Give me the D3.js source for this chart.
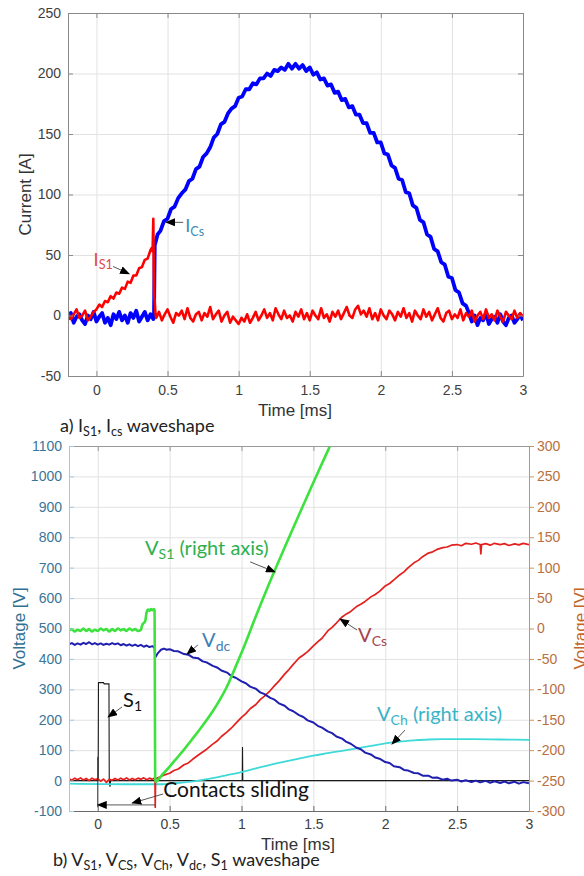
<!DOCTYPE html>
<html>
<head>
<meta charset="utf-8">
<script src="https://cdn.jsdelivr.net/npm/d3@7"></script>
<style>
body { margin: 0; background: #fff; }
svg { display: block; }
.tick text { font-family: "Liberation Sans", Arial, sans-serif; font-size: 14px; }
</style>
</head>
<body>
<div id="chart"></div>
<script>
// ---- data ----
var timeTicks = [0, 0.5, 1, 1.5, 2, 2.5, 3];
var currentTicks = [-50, 0, 50, 100, 150, 200, 250];
var voltLeftTicks = [-100, 0, 100, 200, 300, 400, 500, 600, 700, 800, 900, 1000, 1100];
var voltRightTicks = [-300, -250, -200, -150, -100, -50, 0, 50, 100, 150, 200, 250, 300];

// [time ms, current A]
var iCs = [
	[-0.2,-3],[-0.18,2],[-0.16,-6],[-0.14,-1],[-0.12,1],[-0.1,-4],[-0.08,-7],[-0.06,0],[-0.04,-3],[-0.02,3],
	[0,-5],[0.02,-1],[0.04,2],[0.06,-6],[0.08,-2],[0.1,-8],[0.12,1],[0.14,-3],[0.16,3],[0.18,-4],
	[0.2,0],[0.22,-6],[0.24,2],[0.26,-2],[0.28,4],[0.3,-5],[0.32,-1],[0.34,3],[0.36,-4],[0.38,1],[0.4,-3],[0.405,0],
	[0.41,58],[0.43,67],[0.45,70],[0.475,78],[0.5,80],[0.525,88],[0.55,90],[0.575,97],[0.6,101],[0.625,104],
	[0.65,111],[0.675,113],[0.7,121],[0.725,123],[0.75,131],[0.775,134],[0.8,139],[0.825,147],[0.85,150],[0.875,158],
	[0.9,160],[0.925,167],[0.95,171],[0.975,173],[1.0,180],[1.025,181],[1.05,187],[1.075,187],[1.1,192],[1.125,191],
	[1.15,196],[1.175,196],[1.2,200],[1.225,198],[1.25,203],[1.275,202],[1.3,205],[1.325,203],[1.35,208],[1.375,204],
	[1.4,208],[1.425,204],[1.45,207],[1.475,202],[1.5,205],[1.525,199],[1.55,201],[1.575,195],[1.6,196],[1.625,190],
	[1.65,191],[1.675,184],[1.7,185],[1.725,178],[1.75,179],[1.775,172],[1.8,173],[1.825,166],[1.85,166],[1.875,159],
	[1.9,159],[1.925,151],[1.95,151],[1.975,143],[2.0,143],[2.025,134],[2.05,133],[2.075,124],[2.1,122],[2.125,113],
	[2.15,112],[2.175,102],[2.2,101],[2.225,91],[2.25,89],[2.275,79],[2.3,77],[2.325,67],[2.35,65],[2.375,55],
	[2.4,53],[2.425,44],[2.45,42],[2.475,32],[2.5,31],[2.525,21],[2.55,19],[2.575,10],[2.6,8],[2.62,2],
	[2.64,-5],[2.66,0],[2.68,-8],[2.7,-2],[2.72,-4],[2.74,2],[2.76,-7],[2.78,-3],[2.8,-1],[2.82,-6],
	[2.84,1],[2.86,-5],[2.88,-8],[2.9,-2],[2.92,0],[2.94,-6],[2.96,-3],[2.98,1],[3.0,-4]
];

var iS1 = [
	[-0.2,2],[-0.18,-3],[-0.16,1],[-0.14,5],[-0.12,-2],[-0.1,0],[-0.08,4],[-0.06,-4],[-0.04,-1],[-0.02,3],[0,5],
	[0.02,9],[0.04,7],[0.06,12],[0.08,11],[0.1,16],[0.12,14],[0.14,19],[0.16,18],[0.18,23],[0.2,22],
	[0.22,28],[0.24,27],[0.26,33],[0.28,33],[0.3,39],[0.32,40],[0.34,46],[0.36,47],[0.38,54],[0.39,56],[0.395,53],
	[0.4,80],[0.403,40],[0.406,16],[0.41,12],[0.415,2],
	[0.42,-2],[0.44,3],[0.46,-4],[0.48,1],[0.5,5],[0.52,-1],[0.54,-6],[0.56,2],[0.58,0],[0.6,4],
	[0.62,-3],[0.64,6],[0.66,-2],[0.68,-5],[0.7,1],[0.72,3],[0.74,-4],[0.76,2],[0.78,-1],[0.8,7],
	[0.82,-3],[0.84,1],[0.86,4],[0.88,-5],[0.9,0],[0.92,3],[0.94,-6],[0.96,-1],[0.98,-4],[1.0,-7],
	[1.02,-2],[1.04,-5],[1.06,1],[1.08,-6],[1.1,-2],[1.12,3],[1.14,-4],[1.16,0],[1.18,5],[1.2,-2],
	[1.22,2],[1.24,-4],[1.26,6],[1.28,1],[1.3,-3],[1.32,4],[1.34,-2],[1.36,0],[1.38,-5],[1.4,3],
	[1.42,-1],[1.44,5],[1.46,-3],[1.48,2],[1.5,-4],[1.52,4],[1.54,0],[1.56,-3],[1.58,6],[1.6,-2],
	[1.62,1],[1.64,-5],[1.66,3],[1.68,-1],[1.7,4],[1.72,-3],[1.74,2],[1.76,7],[1.78,0],[1.8,-2],
	[1.82,5],[1.84,8],[1.86,1],[1.88,4],[1.9,-1],[1.92,6],[1.94,-3],[1.96,2],[1.98,-4],[2.0,5],
	[2.02,0],[2.04,-3],[2.06,4],[2.08,1],[2.1,-4],[2.12,3],[2.14,-1],[2.16,6],[2.18,-2],[2.2,2],
	[2.22,-5],[2.24,4],[2.26,0],[2.28,-3],[2.3,5],[2.32,-1],[2.34,3],[2.36,-4],[2.38,1],[2.4,6],
	[2.42,-2],[2.44,-5],[2.46,2],[2.48,4],[2.5,-3],[2.52,1],[2.54,-2],[2.56,5],[2.58,-4],[2.6,2],
	[2.62,-1],[2.64,4],[2.66,-5],[2.68,0],[2.7,3],[2.72,-3],[2.74,5],[2.76,-2],[2.78,1],[2.8,-4],
	[2.82,4],[2.84,-1],[2.86,-5],[2.88,3],[2.9,0],[2.92,-3],[2.94,4],[2.96,-2],[2.98,2],[3.0,-1]
];

// [time ms, volts on right axis]
var vS1 = [
	[-0.2,-3],[-0.18,-1],[-0.16,-5],[-0.14,-2],[-0.12,-4],[-0.1,0],[-0.08,-4],[-0.06,-1],[-0.04,-5],[-0.02,-2],
	[0,-4],[0.02,0],[0.04,-3],[0.06,-1],[0.08,-5],[0.1,-1],[0.12,-4],[0.14,0],[0.16,-3],[0.18,-1],
	[0.2,-4],[0.22,0],[0.24,-3],[0.26,-1],[0.28,-4],[0.3,-2],
	[0.31,6],[0.32,9],[0.33,12],[0.34,27],[0.35,31],[0.36,29],[0.37,32],[0.38,30],[0.39,32],[0.395,30],
	[0.4,-252],[0.45,-240],[0.5,-227],[0.55,-213],[0.6,-199],[0.65,-184],[0.7,-169],[0.75,-153],[0.8,-136],
	[0.85,-117],[0.9,-95],[0.95,-68],[1.0,-40],[1.1,20],[1.2,78],[1.3,133],[1.4,187],[1.5,240],[1.6,292],[1.65,318]
];

// [time ms, volts on left axis]
var vdc = [
	[-0.2,448],[-0.18,452],[-0.16,446],[-0.14,451],[-0.12,447],[-0.1,453],[-0.08,449],[-0.06,455],[-0.04,448],[-0.02,452],
	[0,447],[0.02,451],[0.04,446],[0.06,450],[0.08,447],[0.1,452],[0.12,448],[0.14,451],[0.16,445],[0.18,449],
	[0.2,444],[0.22,448],[0.24,443],[0.26,447],[0.28,442],[0.3,446],[0.32,440],[0.34,444],[0.36,439],[0.38,442],[0.395,437],
	[0.4,405],[0.42,420],[0.44,430],[0.46,434],[0.48,430],[0.5,432],[0.53,426],[0.56,425],[0.6,416],[0.63,414],
	[0.66,405],[0.7,402],[0.73,392],[0.76,388],[0.8,377],[0.83,372],[0.86,362],[0.9,355],[0.93,343],[0.96,338],
	[1.0,326],[1.03,320],[1.06,309],[1.1,302],[1.13,290],[1.16,284],[1.2,272],[1.23,266],[1.26,254],[1.3,246],
	[1.33,234],[1.36,228],[1.4,215],[1.43,209],[1.46,198],[1.5,191],[1.53,180],[1.56,174],[1.6,162],[1.63,156],
	[1.66,145],[1.7,138],[1.73,127],[1.76,121],[1.8,108],[1.83,103],[1.86,92],[1.9,86],[1.93,76],[1.96,72],
	[2.0,61],[2.03,58],[2.06,47],[2.1,44],[2.13,35],[2.16,33],[2.2,25],[2.23,24],[2.26,16],[2.3,16],
	[2.33,9],[2.36,10],[2.4,3],[2.43,6],[2.46,0],[2.5,3],[2.53,-3],[2.56,1],[2.6,-5],[2.63,0],
	[2.66,-6],[2.7,-1],[2.73,-7],[2.76,-2],[2.8,-8],[2.83,-3],[2.86,-9],[2.9,-4],[2.93,-10],[2.96,-5],[3.0,-9]
];

var vCs = [
	[-0.2,6],[-0.18,1],[-0.16,8],[-0.14,3],[-0.12,9],[-0.1,2],[-0.08,7],[-0.06,0],[-0.04,8],[-0.02,3],
	[0,6],[0.02,-2],[0.04,5],[0.06,-6],[0.08,4],[0.1,1],[0.12,7],[0.14,2],[0.16,8],[0.18,3],
	[0.2,9],[0.22,2],[0.24,7],[0.26,3],[0.28,8],[0.3,4],[0.32,9],[0.34,3],[0.36,8],[0.38,4],[0.398,9],
	[0.4,-88],[0.402,5],
	[0.43,12],[0.46,18],[0.5,24],[0.53,33],[0.56,38],[0.6,52],[0.63,58],[0.66,70],[0.7,84],[0.73,94],
	[0.76,104],[0.8,120],[0.83,130],[0.86,145],[0.9,160],[0.93,173],[0.96,188],[1.0,208],[1.03,220],[1.06,236],
	[1.1,250],[1.13,266],[1.16,278],[1.2,296],[1.23,312],[1.26,327],[1.3,350],[1.33,365],[1.36,382],[1.4,403],
	[1.43,413],[1.46,424],[1.5,443],[1.53,456],[1.56,468],[1.6,492],[1.63,504],[1.66,518],[1.7,538],[1.73,548],
	[1.76,556],[1.8,572],[1.83,580],[1.86,589],[1.9,604],[1.93,612],[1.96,622],[2.0,640],[2.03,648],[2.06,660],
	[2.1,676],[2.13,686],[2.16,700],[2.2,716],[2.23,724],[2.26,736],[2.3,748],[2.33,752],[2.36,760],[2.4,766],
	[2.43,768],[2.46,774],[2.5,776],[2.53,772],[2.56,780],[2.6,777],[2.63,781],[2.66,776],[2.665,745],[2.67,776],
	[2.7,779],[2.73,774],[2.76,780],[2.8,776],[2.83,779],[2.86,773],[2.9,778],[2.93,775],[2.96,780],[3.0,776]
];

// right axis
var vCh = [
	[-0.2,-255],[0.2,-256],[0.45,-256],[0.5,-255],[0.6,-253],[0.7,-250],[0.8,-246],[0.9,-241],[1.0,-236],
	[1.1,-230],[1.2,-224],[1.3,-219],[1.4,-214],[1.5,-209],[1.6,-205],[1.7,-201],[1.8,-197],[1.9,-193],
	[2.0,-189],[2.1,-186],[2.2,-184],[2.3,-182.5],[2.4,-182],[2.6,-182],[2.8,-182.5],[3.0,-183]
];

// left axis
var s1 = [
	[-0.2,0],[0.003,0],[0.005,322],[0.04,322],[0.045,318],[0.078,318],[0.08,0],[0.085,-20],[0.09,0],
	[1.005,0],[1.007,110],[1.009,0],[3.0,0]
];

// ---- layout ----
var W = 584, H = 876;
var svg = d3.select("#chart").append("svg").attr("width", W).attr("height", H);

var defs = svg.append("defs");
defs.append("marker")
	.attr("id", "arrow")
	.attr("markerUnits", "userSpaceOnUse")
	.attr("markerWidth", 10).attr("markerHeight", 8)
	.attr("refX", 9).attr("refY", 4)
	.attr("orient", "auto")
	.append("path")
	.attr("d", "M0,0 L10,4 L0,8 z")
	.attr("fill", "#000");

var noteFont = "Lato, 'Open Sans', sans-serif";
var tickFont = "'Liberation Sans', Arial, sans-serif";
var plainNum = function(d) { return String(d); };

// text with subscripts: parts = [[text, isSub], ...]
function richText(g, parts, x, y, size, color, anchor) {
	var t = g.append("text")
		.attr("x", x).attr("y", y)
		.attr("font-family", noteFont)
		.attr("font-size", size)
		.attr("fill", color)
		.attr("text-anchor", anchor || "start");
	var wasSub = false;
	var shift = size * 0.2;
	parts.forEach(function(p) {
		var sp = t.append("tspan").text(p[0]);
		if (p[1]) {
			sp.attr("font-size", size * 0.7);
			if (!wasSub) sp.attr("dy", shift);
			wasSub = true;
		} else {
			if (wasSub) sp.attr("dy", -shift);
			wasSub = false;
		}
	});
	return t;
}

function styleAxis(g, color, textColor) {
	g.select(".domain").attr("stroke", color);
	g.selectAll(".tick line").attr("stroke", color);
	g.selectAll(".tick text").attr("fill", textColor).attr("font-family", tickFont).attr("font-size", 14);
}

function arrowLine(g, x1, y1, x2, y2) {
	g.append("line")
		.attr("x1", x1).attr("y1", y1).attr("x2", x2).attr("y2", y2)
		.attr("stroke", "#444").attr("stroke-width", 0.9)
		.attr("marker-end", "url(#arrow)");
}

// ================= chart a) =================
var xTop = d3.scaleLinear().domain([-0.2, 3]).range([68, 523]);
var yTop = d3.scaleLinear().domain([-50, 250]).range([376, 13]);
var topH = yTop(-50) - yTop(250), topW = xTop(3) - xTop(-0.2);

var gridA = svg.append("g");
gridA.append("g").attr("transform", "translate(0," + yTop(-50) + ")")
	.call(d3.axisBottom(xTop).tickValues(timeTicks).tickSize(-topH).tickFormat(""))
	.call(function(g) { g.select(".domain").remove(); g.selectAll("line").attr("stroke", "#e2e2e2"); });
gridA.append("g").attr("transform", "translate(" + xTop(-0.2) + ",0)")
	.call(d3.axisLeft(yTop).tickValues(currentTicks).tickSize(-topW).tickFormat(""))
	.call(function(g) { g.select(".domain").remove(); g.selectAll("line").attr("stroke", "#e2e2e2"); });

defs.append("clipPath").attr("id", "clipA").append("rect")
	.attr("x", xTop(-0.2)).attr("y", yTop(250)).attr("width", topW).attr("height", topH);

var lineA = d3.line().x(function(d) { return xTop(d[0]); }).y(function(d) { return yTop(d[1]); });
var plotA = svg.append("g").attr("clip-path", "url(#clipA)");
plotA.append("path").datum(iCs).attr("d", lineA).attr("fill", "none")
	.attr("stroke", "#0000ff").attr("stroke-width", 3.8).attr("stroke-linejoin", "round");
plotA.append("path").datum(iS1).attr("d", lineA).attr("fill", "none")
	.attr("stroke", "#ff0000").attr("stroke-width", 2.6).attr("stroke-linejoin", "round");

var axA = "#8a8a8a";
svg.append("g").attr("transform", "translate(0," + yTop(-50) + ")")
	.call(d3.axisBottom(xTop).tickValues(timeTicks).tickSizeInner(-5).tickSizeOuter(0).tickPadding(9).tickFormat(plainNum))
	.call(function(g) { styleAxis(g, axA, "#404040"); });
svg.append("g").attr("transform", "translate(0," + yTop(250) + ")")
	.call(d3.axisTop(xTop).tickValues(timeTicks).tickSizeInner(-5).tickSizeOuter(0).tickFormat(""))
	.call(function(g) { styleAxis(g, axA, "#404040"); });
svg.append("g").attr("transform", "translate(" + xTop(-0.2) + ",0)")
	.call(d3.axisLeft(yTop).tickValues(currentTicks).tickSizeInner(-5).tickSizeOuter(0).tickPadding(7).tickFormat(plainNum))
	.call(function(g) { styleAxis(g, axA, "#404040"); });
svg.append("g").attr("transform", "translate(" + xTop(3) + ",0)")
	.call(d3.axisRight(yTop).tickValues(currentTicks).tickSizeInner(-5).tickSizeOuter(0).tickFormat(""))
	.call(function(g) { styleAxis(g, axA, "#404040"); });

svg.append("text")
	.attr("transform", "translate(31," + yTop(100) + ") rotate(-90)")
	.attr("text-anchor", "middle")
	.attr("font-family", tickFont).attr("font-size", 17).attr("fill", "#333")
	.text("Current [A]");
svg.append("text")
	.attr("x", 295).attr("y", 416)
	.attr("text-anchor", "middle")
	.attr("font-family", tickFont).attr("font-size", 17).attr("fill", "#333")
	.text("Time [ms]");

var notesA = svg.append("g");
richText(notesA, [["I"], ["S1", 1]], xTop(-0.02), yTop(41), 18, "#dc4b4b");
arrowLine(notesA, xTop(0.117), yTop(40.5), xTop(0.23), yTop(34.5));
richText(notesA, [["I"], ["Cs", 1]], xTop(0.625), yTop(69), 18, "#3c8dbc");
arrowLine(notesA, xTop(0.61), yTop(77), xTop(0.49), yTop(77));

richText(svg, [["a) I"], ["S1", 1], [", I"], ["cs", 1], [" waveshape"]], 60, 432, 18, "#222");

// ================= chart b) =================
var xBot = d3.scaleLinear().domain([-0.2, 3]).range([69, 529]);
var yL = d3.scaleLinear().domain([-100, 1100]).range([811, 446]);
var yR = d3.scaleLinear().domain([-300, 300]).range([811, 446]);
var botH = yL(-100) - yL(1100), botW = xBot(3) - xBot(-0.2);

var gridB = svg.append("g");
gridB.append("g").attr("transform", "translate(0," + yL(-100) + ")")
	.call(d3.axisBottom(xBot).tickValues(timeTicks).tickSize(-botH).tickFormat(""))
	.call(function(g) { g.select(".domain").remove(); g.selectAll("line").attr("stroke", "#e2e2e2"); });
gridB.append("g").attr("transform", "translate(" + xBot(-0.2) + ",0)")
	.call(d3.axisLeft(yL).tickValues(voltLeftTicks).tickSize(-botW).tickFormat(""))
	.call(function(g) { g.select(".domain").remove(); g.selectAll("line").attr("stroke", "#e2e2e2"); });

defs.append("clipPath").attr("id", "clipB").append("rect")
	.attr("x", xBot(-0.2)).attr("y", yL(1100)).attr("width", botW).attr("height", botH);

var lineL = d3.line().x(function(d) { return xBot(d[0]); }).y(function(d) { return yL(d[1]); });
var lineRsmooth = d3.line().curve(d3.curveMonotoneX)
	.x(function(d) { return xBot(d[0]); }).y(function(d) { return yR(d[1]); });
var plotB = svg.append("g").attr("clip-path", "url(#clipB)");

plotB.append("path").datum(s1).attr("d", lineL).attr("fill", "none")
	.attr("stroke", "#1a1a1a").attr("stroke-width", 1.1);
plotB.append("path").datum(vCh).attr("d", lineRsmooth).attr("fill", "none")
	.attr("stroke", "#3fdad8").attr("stroke-width", 1.8);
plotB.append("path").datum(vCs).attr("d", lineL).attr("fill", "none")
	.attr("stroke", "#e3201e").attr("stroke-width", 1.7).attr("stroke-linejoin", "round");
plotB.append("path").datum(vdc).attr("d", lineL).attr("fill", "none")
	.attr("stroke", "#1f1fb0").attr("stroke-width", 2).attr("stroke-linejoin", "round");
plotB.append("path").datum(vS1).attr("d", lineRsmooth).attr("fill", "none")
	.attr("stroke", "#3ee23e").attr("stroke-width", 2.6).attr("stroke-linejoin", "round");

// contacts sliding marks
var notesB = svg.append("g");
notesB.append("line")
	.attr("x1", xBot(0)).attr("x2", xBot(0)).attr("y1", yL(78)).attr("y2", yL(-88))
	.attr("stroke", "#333").attr("stroke-width", 1);
arrowLine(notesB, xBot(0.4), yL(-80), xBot(0), yL(-80));
arrowLine(notesB, xBot(0.455), yL(-44), xBot(0.24), yL(-74));
richText(notesB, [["Contacts sliding"]], xBot(0.455), yL(-54), 21, "#111");

richText(notesB, [["V"], ["S1", 1], [" (right axis)"]], xBot(0.329), yL(741), 20, "#2eaf4e");
arrowLine(notesB, xBot(1.06), yL(719), xBot(1.233), yL(686));
richText(notesB, [["V"], ["dc", 1]], xBot(0.726), yL(440), 20, "#3f7eb3");
arrowLine(notesB, xBot(0.697), yL(446), xBot(0.621), yL(416));
richText(notesB, [["V"], ["Cs", 1]], xBot(1.811), yL(456), 20, "#a8434b");
arrowLine(notesB, xBot(1.804), yL(495), xBot(1.686), yL(531));
richText(notesB, [["V"], ["Ch", 1], [" (right axis)"]], xBot(1.943), yL(196), 20, "#3ab3c7");
arrowLine(notesB, xBot(2.137), yL(166), xBot(2.047), yL(120));
richText(notesB, [["S"], ["1", 1]], xBot(0.176), yL(242), 20, "#111");
arrowLine(notesB, xBot(0.169), yL(242), xBot(0.072), yL(209));

// axes
svg.append("g").attr("transform", "translate(0," + yL(-100) + ")")
	.call(d3.axisBottom(xBot).tickValues(timeTicks).tickSizeInner(-5).tickSizeOuter(0).tickPadding(8).tickFormat(plainNum))
	.call(function(g) { styleAxis(g, "#6b6b6b", "#404040"); });
svg.append("g").attr("transform", "translate(0," + yL(1100) + ")")
	.call(d3.axisTop(xBot).tickValues(timeTicks).tickSizeInner(-5).tickSizeOuter(0).tickFormat(""))
	.call(function(g) { styleAxis(g, "#9a9a9a", "#404040"); });
svg.append("g").attr("transform", "translate(" + xBot(-0.2) + ",0)")
	.call(d3.axisLeft(yL).tickValues(voltLeftTicks).tickSizeInner(-5).tickSizeOuter(0).tickPadding(7).tickFormat(plainNum))
	.call(function(g) { styleAxis(g, "#9fcbe0", "#3b7597"); });
svg.append("g").attr("transform", "translate(" + xBot(3) + ",0)")
	.call(d3.axisRight(yR).tickValues(voltRightTicks).tickSizeInner(5).tickSizeOuter(0).tickPadding(3).tickFormat(plainNum))
	.call(function(g) { styleAxis(g, "#c9955f", "#b8703f"); });

svg.append("text")
	.attr("transform", "translate(25," + yL(500) + ") rotate(-90)")
	.attr("text-anchor", "middle")
	.attr("font-family", tickFont).attr("font-size", 17).attr("fill", "#2f7093")
	.text("Voltage [V]");
svg.append("text")
	.attr("transform", "translate(586," + yL(500) + ") rotate(-90)")
	.attr("text-anchor", "middle")
	.attr("font-family", tickFont).attr("font-size", 17).attr("fill", "#c0662b")
	.text("Voltage [V]");
svg.append("text")
	.attr("x", 298).attr("y", 850)
	.attr("text-anchor", "middle")
	.attr("font-family", tickFont).attr("font-size", 17).attr("fill", "#333")
	.text("Time [ms]");

richText(svg, [["b) V"], ["S1", 1], [", V"], ["CS", 1], [", V"], ["Ch", 1], [", V"], ["dc", 1], [", S"], ["1", 1], [" waveshape"]],
	53, 866, 18, "#222");
</script>
</body>
</html>
